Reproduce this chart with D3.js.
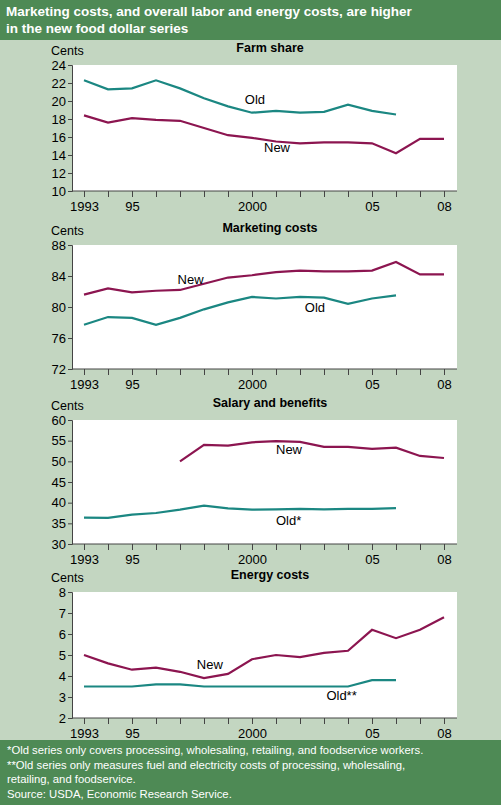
<!DOCTYPE html>
<html><head><meta charset="utf-8">
<script src="https://cdn.jsdelivr.net/npm/d3@7"></script>
<style>body{margin:0;background:#c3d6c1;font-family:Arial,"Liberation Sans",sans-serif}</style>
</head><body><svg id="c" width="501" height="805"></svg>
<script>
var years = d3.range(1993, 2009);
var tickYears = [1993, 1995, 2000, 2005, 2008];
var tickText = ["1993", "95", "2000", "05", "08"];

var farmOld = [22.3,21.3,21.4,22.3,21.4,20.3,19.4,18.7,18.9,18.7,18.8,19.6,18.9,18.5];
var farmNew = [18.4,17.6,18.1,17.9,17.8,17.0,16.2,15.9,15.5,15.3,15.4,15.4,15.3,14.2,15.8,15.8];
var mktOld = [77.7,78.7,78.6,77.7,78.6,79.7,80.6,81.3,81.1,81.3,81.2,80.4,81.1,81.5];
var mktNew = [81.6,82.4,81.9,82.1,82.2,83.0,83.8,84.1,84.5,84.7,84.6,84.6,84.7,85.8,84.2,84.2];
var salOld = [36.4,36.3,37.1,37.5,38.3,39.3,38.6,38.3,38.4,38.5,38.4,38.5,38.5,38.7];
var salNew = [50.0,54.0,53.8,54.6,54.9,54.7,53.5,53.5,53.0,53.3,51.3,50.8]; // 1997-2008
var enOld = [3.5,3.5,3.5,3.6,3.6,3.5,3.5,3.5,3.5,3.5,3.5,3.5,3.8,3.8];
var enNew = [5.0,4.6,4.3,4.4,4.2,3.9,4.1,4.8,5.0,4.9,5.1,5.2,6.2,5.8,6.2,6.8];

var OLD = "#1b8782", NEW = "#8c1550";
var FONT = "Arial,'Liberation Sans',sans-serif";
var svg = d3.select("#c");

// header and footer bands
svg.append("rect").attr("x",0).attr("y",0).attr("width",501).attr("height",40).attr("fill","#4e8a55");
svg.append("text").attr("x",6).attr("y",16).attr("fill","#fff").attr("font-weight","bold").attr("font-size",13.5)
  .text("Marketing costs, and overall labor and energy costs, are higher");
svg.append("text").attr("x",6).attr("y",33).attr("fill","#fff").attr("font-weight","bold").attr("font-size",13.5)
  .text("in the new food dollar series");
svg.append("rect").attr("x",0).attr("y",740).attr("width",501).attr("height",65).attr("fill","#4e8a55");
["*Old series only covers processing, wholesaling, retailing, and foodservice workers.",
 "**Old series only measures fuel and electricity costs of processing, wholesaling,",
 "retailing, and foodservice.",
 "Source:  USDA, Economic Research Service."].forEach(function (t, i) {
  svg.append("text").attr("x",7).attr("y",754+i*14.5).attr("fill","#fff").attr("font-size",11.3).text(t);
});

var x = d3.scaleLinear().domain([1993, 2008]).range([84, 444]);

function panel(title, top, bottom, domain, step, oldV, newV, newStart, oldLbl, newLbl) {
  var y = d3.scaleLinear().domain(domain).range([bottom, top]);
  var g = svg.append("g");
  g.append("rect").attr("x",72).attr("y",top).attr("width",385).attr("height",bottom-top).attr("fill","#fff");
  g.append("text").attr("x",270).attr("y",top-13).attr("text-anchor","middle").attr("font-weight","bold").attr("font-size",12.5).text(title);
  g.append("text").attr("x",51).attr("y",top-10).attr("font-size",12.5).text("Cents");
  var ya = g.append("g").attr("transform","translate(72,0)")
    .call(d3.axisLeft(y).tickValues(d3.range(domain[0], domain[1]+0.01, step)).tickFormat(d3.format("d")).tickSize(4).tickPadding(2));
  ya.selectAll("text").attr("font-size",13).attr("font-family",FONT).attr("fill","#000");
  var xa = g.append("g").attr("transform","translate(0,"+bottom+")")
    .call(d3.axisBottom(x).tickValues(years).tickSize(6).tickFormat(function (d) {
      var i = tickYears.indexOf(d); return i < 0 ? "" : tickText[i]; }));
  xa.select(".domain").attr("d","M72,0H457");
  xa.selectAll("text").attr("font-size",13).attr("font-family",FONT).attr("fill","#000").attr("dy","0.85em");
  g.selectAll(".domain,.tick line").attr("stroke","#444");
  var line = d3.line().x(function (d) { return x(d[0]); }).y(function (d) { return y(d[1]); });
  g.append("path").datum(oldV.map(function (v, i) { return [1993+i, v]; }))
    .attr("d",line).attr("fill","none").attr("stroke",OLD).attr("stroke-width",2.2);
  g.append("path").datum(newV.map(function (v, i) { return [newStart+i, v]; }))
    .attr("d",line).attr("fill","none").attr("stroke",NEW).attr("stroke-width",2.2);
  g.append("text").attr("x",x(oldLbl[0])).attr("y",y(oldLbl[1])).attr("font-size",13).text(oldLbl[2]);
  g.append("text").attr("x",x(newLbl[0])).attr("y",y(newLbl[1])).attr("font-size",13).text(newLbl[2]);
}

panel("Farm share", 65, 191, [10, 24], 2, farmOld, farmNew, 1993, [1999.7, 19.7, "Old"], [2000.5, 14.3, "New"]);
panel("Marketing costs", 245, 369, [72, 88], 4, mktOld, mktNew, 1993, [2002.2, 79.4, "Old"], [1996.9, 83.0, "New"]);
panel("Salary and benefits", 420, 544, [30, 60], 5, salOld, salNew, 1997, [2001, 34.6, "Old*"], [2001, 51.8, "New"]);
panel("Energy costs", 592, 718, [2, 8], 1, enOld, enNew, 1993, [2003.1, 2.85, "Old**"], [1997.7, 4.35, "New"]);
</script></body></html>
